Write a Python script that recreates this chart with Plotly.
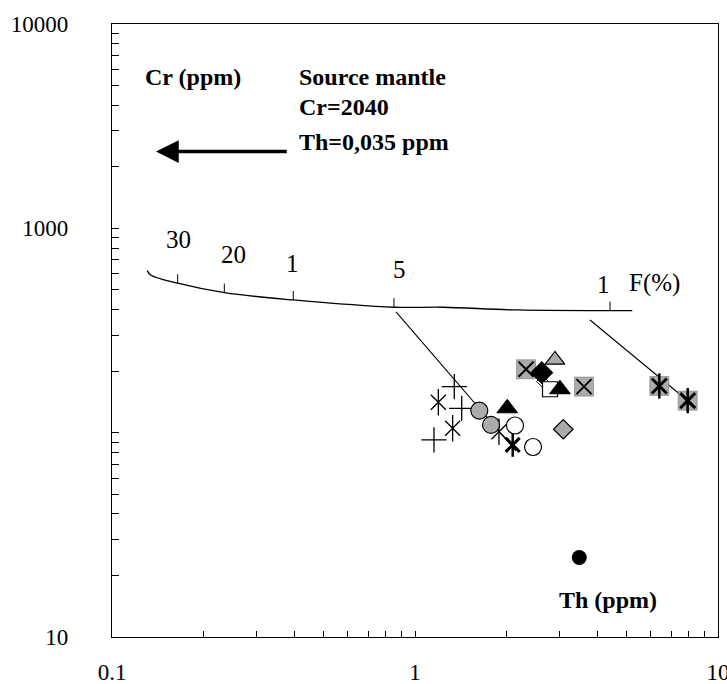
import numpy as np
import plotly.graph_objects as go

# ---- data (Th ppm, Cr ppm) ----
plus_x = [1.348, 1.426, 1.155]
plus_y = [168.0, 131.6, 92.1]

ast_x = [1.194, 1.331, 1.893]
ast_y = [140.9, 105.1, 101.1]

bold_ast_x = [2.101]
bold_ast_y = [87.1]

gcirc_x = [1.630, 1.782]
gcirc_y = [128.2, 109.1]

ocirc_x = [2.138, 2.452]
ocirc_y = [108.4, 85.1]

btri_x = [2.016, 3.009]
btri_y = [131.6, 163.1]

gtri_x = [2.897]
gtri_y = [226.9]

bdia_x = [2.621]
bdia_y = [196.7]

sodia_x = [2.635]
sodia_y = [178.1]

osq_x = [2.790]
osq_y = [163.1]

gdia_x = [3.085]
gdia_y = [103.9]

gsqx_x = [2.325, 3.612]
gsqx_y = [204.3, 168.0]

gsqast_x = [6.402, 7.943]
gsqast_y = [169.3, 143.4]

bcirc_x = [3.485]
bcirc_y = [24.5]

# melting curve
curve_x = [0.1307, 0.1341, 0.1647, 0.2348, 0.3965, 0.8524, 1.237, 2.166, 5.213]
curve_y = [620.9, 591.5, 538.6, 484.5, 446.1, 411.0, 411.0, 398.6, 395.5]
tick_x = [0.1647, 0.2348, 0.3965, 0.8524, 4.402]
tick_y = [538.6, 484.5, 446.1, 411.0, 395.5]
tick_lab = ["30", "20", "1", "5", "1"]
tick_lab_x = [0.1655, 0.2527, 0.3936, 0.8875, 4.183]
tick_lab_y = [877.5, 741.0, 675.0, 625.9, 528.4]

# tie lines
tie1_x = [0.8657, 2.154]
tie1_y = [389.7, 81.4]
tie2_x = [3.781, 7.962]
tie2_y = [356.1, 142.9]

FONT = "Liberation Serif"
GRAY = "#ababab"

fig = go.Figure()

fig.add_trace(go.Scatter(x=curve_x, y=curve_y, mode="lines", line=dict(color="black", width=1.3, shape="spline")))
tx, ty = [], []
for a, b in zip(tick_x, tick_y):
    tx += [a, a, None]
    ty += [b, b * 1.107, None]
fig.add_trace(go.Scatter(x=tx, y=ty, mode="lines", line=dict(color="black", width=1)))
fig.add_trace(go.Scatter(x=tie1_x, y=tie1_y, mode="lines", line=dict(color="black", width=1.1)))
fig.add_trace(go.Scatter(x=tie2_x, y=tie2_y, mode="lines", line=dict(color="black", width=1.1)))


def mk(x, y, symbol, size, color="black", lc="black", lw=1.2):
    fig.add_trace(go.Scatter(x=x, y=y, mode="markers",
                             marker=dict(symbol=symbol, size=size, color=color,
                                         line=dict(color=lc, width=lw))))


mk(plus_x, plus_y, "cross-thin-open", 18, lw=1.3)
mk(ast_x, ast_y, "x-thin-open", 15, lw=1.3)
mk(ast_x, ast_y, "line-ns-open", 19, lw=1.3)
mk(gcirc_x, gcirc_y, "circle", 17, color=GRAY, lw=1.2)
mk(ocirc_x, ocirc_y, "circle", 17, color="white", lw=1.2)
mk(gsqx_x, gsqx_y, "square", 19, color=GRAY, lc="#777777", lw=0.6)
mk(gsqx_x, gsqx_y, "x-thin-open", 15, lw=2)
mk(gsqast_x, gsqast_y, "square", 19, color=GRAY, lc="#777777", lw=0.6)
mk(gsqast_x, gsqast_y, "x-thin-open", 15, lw=3)
mk(gsqast_x, gsqast_y, "line-ns-open", 18, lw=2.5)
mk(bold_ast_x, bold_ast_y, "x-thin-open", 14, lw=3)
mk(bold_ast_x, bold_ast_y, "line-ns-open", 17, lw=2.5)
mk(sodia_x, sodia_y, "diamond", 9, color="white", lw=1)
mk(bdia_x, bdia_y, "diamond", 17, color="black", lw=1)
mk(osq_x, osq_y, "square", 15, color="white", lw=1.2)
mk(btri_x, btri_y, "triangle-up", 18, color="black", lw=1)
mk(gtri_x, gtri_y, "triangle-up", 17, color=GRAY, lw=1.2)
mk(gdia_x, gdia_y, "diamond", 15, color=GRAY, lw=1.2)
mk(bcirc_x, bcirc_y, "circle", 15, color="black", lw=0)

ann = []
for t, x, y in zip(tick_lab, tick_lab_x, tick_lab_y):
    ann.append(dict(x=np.log10(x), y=np.log10(y), text=t, showarrow=False,
                    font=dict(family=FONT, size=25, color="black")))
ann.append(dict(x=np.log10(6.194), y=np.log10(538.6), text="F(%)", showarrow=False,
                font=dict(family=FONT, size=25, color="black")))
bold = dict(family=FONT, size=24, color="black")
ann.append(dict(x=np.log10(0.1266), y=np.log10(5528), text="<b>Cr (ppm)</b>", showarrow=False,
                xanchor="left", font=bold))
ann.append(dict(x=np.log10(0.408), y=np.log10(5528), text="<b>Source mantle</b>", showarrow=False,
                xanchor="left", font=bold))
ann.append(dict(x=np.log10(0.408), y=np.log10(3941), text="<b>Cr=2040</b>", showarrow=False,
                xanchor="left", font=bold))
ann.append(dict(x=np.log10(0.408), y=np.log10(2657), text="<b>Th=0,035 ppm</b>", showarrow=False,
                xanchor="left", font=bold))
ann.append(dict(x=np.log10(4.335), y=np.log10(15.18), text="<b>Th (ppm)</b>", showarrow=False,
                font=bold))
ann.append(dict(x=np.log10(0.1397), y=np.log10(2375), ax=np.log10(0.3817), ay=np.log10(2375),
                xref="x", yref="y", axref="x", ayref="y", text="", showarrow=True,
                arrowhead=2, arrowsize=1.3, arrowwidth=3.5, arrowcolor="black"))

minor_x = [v * m for v in (0.1, 1) for m in range(2, 10)]
minor_y = [v * m for v in (10, 100, 1000) for m in range(2, 10)]

fig.update_layout(
    width=727, height=684,
    margin=dict(l=112, r=9, t=24, b=47),
    paper_bgcolor="white", plot_bgcolor="white",
    showlegend=False,
    annotations=ann,
    font=dict(family=FONT, size=23, color="black"),
    xaxis=dict(type="log", range=[-1, 1], tickvals=[0.1, 1, 10], ticktext=["0.1", "1", "10"],
               ticks="inside", ticklen=6, tickcolor="black", showgrid=False, zeroline=False,
               showline=True, linecolor="black", linewidth=1.3, mirror=True,
               ticklabelstandoff=14, automargin=False, ticklabeloverflow="allow",
               minor=dict(tickvals=minor_x, ticks="inside", ticklen=6, tickcolor="black", showgrid=False)),
    yaxis=dict(type="log", range=[1, 4], tickvals=[10, 100, 1000, 10000], ticktext=["10", "", "1000", "10000"],
               ticks="inside", ticklen=7, tickcolor="black", showgrid=False, zeroline=False,
               showline=True, linecolor="black", linewidth=1.3, mirror=True,
               ticklabelstandoff=38, automargin=False, ticklabeloverflow="allow",
               minor=dict(tickvals=minor_y, ticks="inside", ticklen=7, tickcolor="black", showgrid=False)),
)

fig.write_html("out.html")
